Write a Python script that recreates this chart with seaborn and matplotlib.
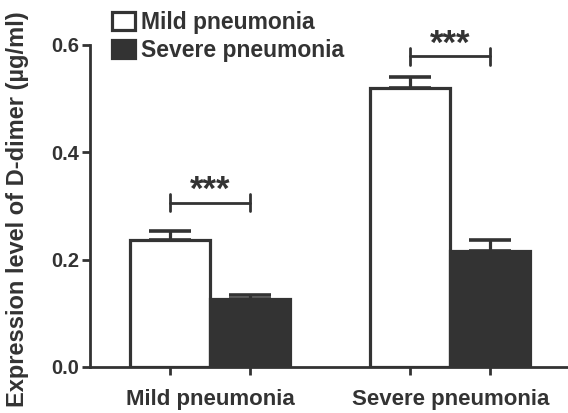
import numpy as np
import pandas as pd
import matplotlib
matplotlib.use("Agg")
import matplotlib.pyplot as plt
import seaborn as sns

# values
groups = ["Mild pneumonia", "Severe pneumonia"]
hue_names = ["Mild pneumonia", "Severe pneumonia"]
mild_mean = [0.237, 0.520]
mild_sem = [0.016, 0.020]
severe_mean = [0.127, 0.216]
severe_sem = [0.007, 0.021]
sig_y = [0.306, 0.579]
sig_text = ["***", "***"]

dark = "#333333"

sns.set_style("ticks")
plt.rcParams["font.family"] = ["Liberation Sans", "DejaVu Sans"]
plt.rcParams["font.weight"] = "bold"

df = pd.DataFrame({
    "group": groups * 2,
    "type": [hue_names[0]] * 2 + [hue_names[1]] * 2,
    "value": mild_mean + severe_mean,
    "sem": mild_sem + severe_sem,
})

fig = plt.figure(figsize=(5.68, 4.13), dpi=100)
ax = fig.add_axes([90 / 568, 46 / 413, 478 / 568, 322 / 413])

sns.barplot(data=df, x="group", y="value", hue="type", order=groups, hue_order=hue_names,
            palette=["white", dark], edgecolor=dark, linewidth=2.3, width=2 / 3,
            errorbar=None, saturation=1, ax=ax)

# bar centres, in the order seaborn drew them (hue level by hue level)
bars = [p for p in ax.patches if p.get_height() > 0]
centres = [b.get_x() + b.get_width() / 2 for b in bars]
tops = [b.get_height() for b in bars]
errs = mild_sem + severe_sem
ax.errorbar(centres, tops, yerr=[np.zeros(len(errs)), errs], fmt="none",
            ecolor=dark, elinewidth=2.3, capsize=15, capthick=2.6, zorder=3)

# significance brackets
for i in range(len(groups)):
    x1 = centres[i]
    x2 = centres[i + len(groups)]
    y = sig_y[i]
    ax.plot([x1, x2], [y, y], color=dark, lw=2, clip_on=False)
    ax.plot([x1, x1], [y - 0.016, y + 0.016], color=dark, lw=2, clip_on=False)
    ax.plot([x2, x2], [y - 0.016, y + 0.016], color=dark, lw=2, clip_on=False)
    ax.text((x1 + x2) / 2, y - 0.008, sig_text[i], ha="center", va="bottom",
            fontsize=25, color=dark, fontweight="bold", clip_on=False)

ax.set_xlim(-0.5, 1.49)
ax.set_ylim(0, 0.6)
ax.set_yticks([0.0, 0.2, 0.4, 0.6])
ax.set_yticklabels(["0.0", "0.2", "0.4", "0.6"], fontsize=14.5, fontweight="bold", color=dark)
ax.set_xticks(range(len(groups)))
ax.set_xticklabels(groups, fontsize=16, fontweight="bold", color=dark)
ax.set_xticks(centres, minor=True)
ax.tick_params(axis="x", which="major", length=0, pad=16)
ax.tick_params(axis="x", which="minor", length=6, width=2, color=dark)
ax.tick_params(axis="y", length=6, width=2, color=dark, pad=2)
ax.set_xlabel("")
ax.set_ylabel("Expression level of D-dimer (µg/ml)", fontsize=17, fontweight="bold", color=dark)
ax.yaxis.set_label_coords(-0.128, 0.49)

sns.despine(ax=ax)
for s in ["left", "bottom"]:
    ax.spines[s].set_linewidth(2)
    ax.spines[s].set_color(dark)

sns.move_legend(ax, loc="upper left", bbox_to_anchor=(0.046, 1.105), title=None,
                frameon=False, fontsize=16.5, borderpad=0, borderaxespad=0,
                handlelength=1.0, handleheight=0.85, handletextpad=0.25, labelspacing=0.2)
for t in ax.get_legend().get_texts():
    t.set_fontweight("bold")
    t.set_color(dark)

fig.savefig("out.png", dpi=100)
